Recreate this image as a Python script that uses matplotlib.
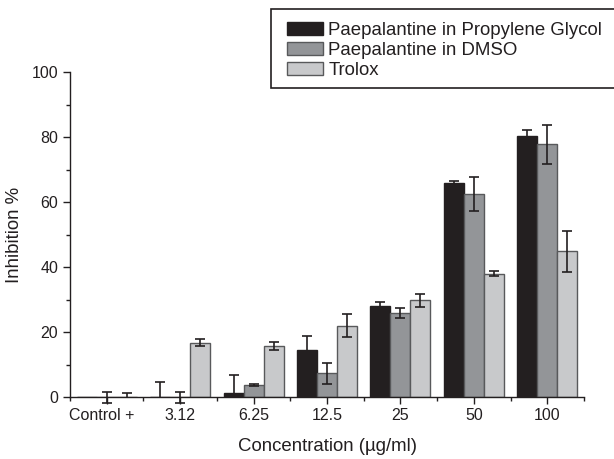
import matplotlib
matplotlib.use("Agg")
import matplotlib.pyplot as plt
from matplotlib.patches import Rectangle, Patch
from matplotlib.ticker import MultipleLocator, FixedLocator
import numpy as np

plt.rcParams['font.family'] = ['Liberation Sans', 'DejaVu Sans']

categories = ["Control +", "3.12", "6.25", "12.5", "25", "50", "100"]
series_names = ["Paepalantine in Propylene Glycol", "Paepalantine in DMSO", "Trolox"]
pg_values = [0.0, 0.0, 1.1, 14.5, 27.9, 65.9, 80.2]
pg_err_low = [0.0, 0.0, 1.1, 4.3, 1.4, 0.6, 1.9]
pg_err_high = [0.0, 4.7, 5.7, 4.3, 1.4, 0.6, 1.9]
dmso_values = [0.0, 0.0, 3.7, 7.3, 25.9, 62.5, 77.7]
dmso_err_low = [1.8, 1.8, 0.3, 3.2, 1.6, 5.2, 5.9]
dmso_err_high = [1.4, 1.4, 0.3, 3.2, 1.6, 5.2, 5.9]
trolox_values = [0.0, 16.7, 15.7, 22.0, 29.7, 37.9, 44.9]
trolox_err_low = [0.0, 1.0, 1.1, 3.6, 2.1, 0.8, 6.3]
trolox_err_high = [1.1, 1.0, 1.1, 3.6, 2.1, 0.8, 6.3]

colors = ["#231f20", "#939598", "#c8c9cb"]
edges = ["#231f20", "#58595b", "#58595b"]

fig = plt.figure(figsize=(6.14, 4.59), dpi=100)
ax = fig.add_axes([70/614, 1-397/459, (584-70)/614, (397-72)/459])

x = np.arange(len(categories))
w = 0.272
all_vals = [pg_values, dmso_values, trolox_values]
all_errs = [(pg_err_low, pg_err_high), (dmso_err_low, dmso_err_high),
            (trolox_err_low, trolox_err_high)]
for i, (v, (lo, hi)) in enumerate(zip(all_vals, all_errs)):
    xs = x + (i - 1) * w
    ax.bar(xs, v, width=w, color=colors[i], edgecolor=edges[i], linewidth=1.0, zorder=2)
    eb = ax.errorbar(xs, v, yerr=[lo, hi], fmt='none', ecolor="#231f20", elinewidth=1.2,
                     capsize=3.5, capthick=1.2, zorder=3)
    for art in list(eb.lines[1]) + list(eb.lines[2]):
        art.set_clip_on(False)
    # hide caps where an error is zero
    caps = eb.lines[1]
    if len(caps) == 2:
        lo_cap, hi_cap = caps
        ylo = np.array(v) - np.array(lo)
        yhi = np.array(v) + np.array(hi)
        mlo = np.array(lo) > 0
        mhi = np.array(hi) > 0
        lo_cap.set_data(xs[mlo], ylo[mlo])
        hi_cap.set_data(xs[mhi], yhi[mhi])

ax.set_xlim(-0.5, 6.5)
ax.set_ylim(0, 100)
ax.spines['top'].set_visible(False)
ax.spines['right'].set_visible(False)
for s in ['left', 'bottom']:
    ax.spines[s].set_linewidth(1.0)
    ax.spines[s].set_color("#231f20")

ax.set_xticks(x)
ax.set_xticklabels(categories)
ax.xaxis.set_minor_locator(FixedLocator(np.arange(-0.5, 7.0, 1.0)))
ax.yaxis.set_major_locator(MultipleLocator(20))
ax.yaxis.set_minor_locator(MultipleLocator(10))
ax.tick_params(axis='both', which='major', direction='out', length=5, width=1.0,
               labelsize=11.5, color="#231f20", labelcolor="#231f20")
ax.tick_params(axis='both', which='minor', direction='out', length=3, width=1.0, color="#231f20")
ax.tick_params(axis='x', which='major', pad=3)

# the first label sits slightly left of its tick in the reference
from matplotlib.transforms import ScaledTranslation
first = ax.get_xticklabels()[0]
first.set_transform(first.get_transform() + ScaledTranslation(-5/100, 0, fig.dpi_scale_trans))

ax.set_xlabel("Concentration (µg/ml)", fontsize=13.4, color="#231f20", labelpad=11)
ax.set_ylabel("Inhibition %", fontsize=13.4, color="#231f20", labelpad=6)

# legend box
rect = Rectangle((271/614, 1-88/459), 0.6, 79/459, transform=fig.transFigure,
                 facecolor='white', edgecolor='#231f20', linewidth=1.2, clip_on=False)
fig.patches.append(rect)
handles = [Patch(facecolor=colors[i], edgecolor=edges[i], linewidth=1.0) for i in range(3)]
fig.legend(handles, series_names, loc='upper left',
           bbox_to_anchor=(287/614, 1-22/459), frameon=False, fontsize=13.4,
           handlelength=1.94, handleheight=0.7, handletextpad=0.27, labelspacing=0.17,
           borderpad=0.0, borderaxespad=0.0, labelcolor="#231f20")

fig.savefig("out.png", dpi=100)
